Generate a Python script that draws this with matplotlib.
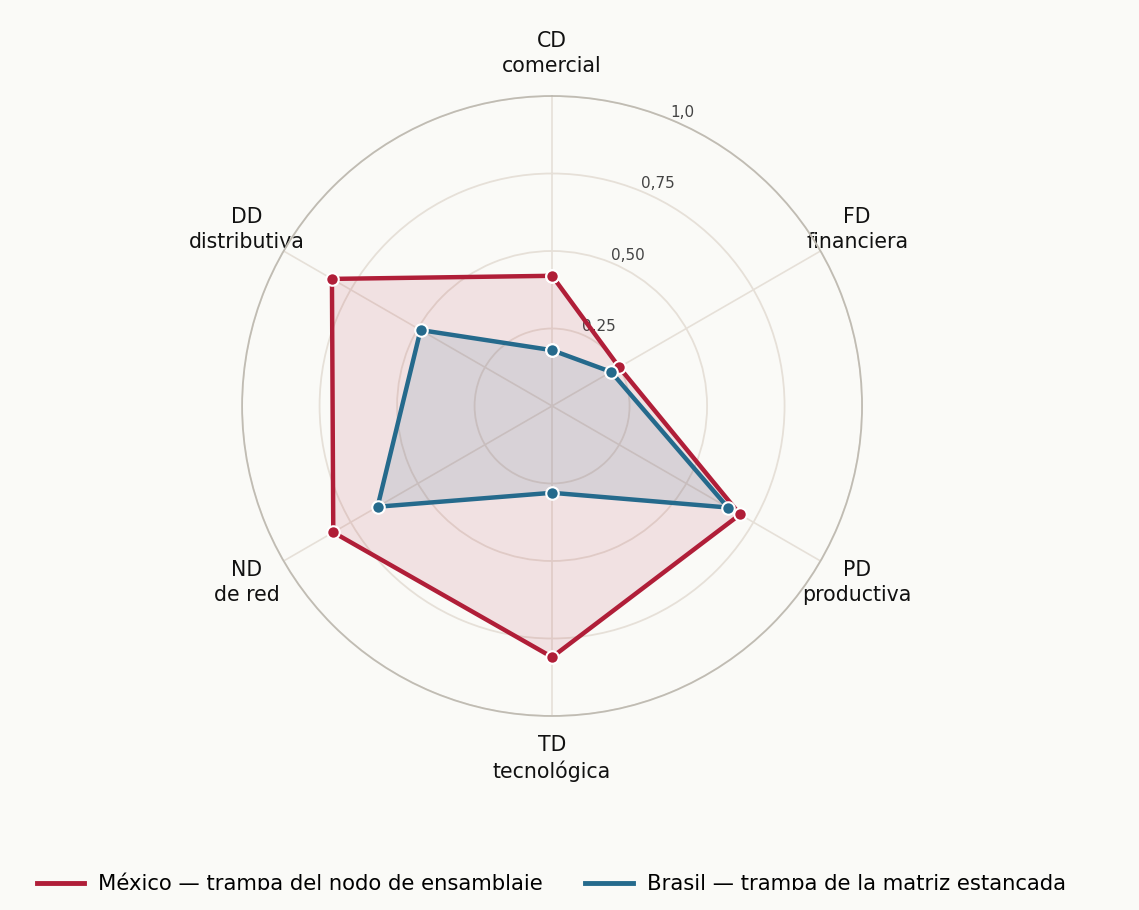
import numpy as np
import matplotlib
matplotlib.use("Agg")
import matplotlib.pyplot as plt
from matplotlib.patches import Rectangle

categories = ["CD\ncomercial", "FD\nfinanciera", "PD\nproductiva",
              "TD\ntecnológica", "ND\nde red", "DD\ndistributiva"]
mexico = [0.42, 0.25, 0.70, 0.81, 0.815, 0.82]
brasil = [0.18, 0.22, 0.655, 0.28, 0.65, 0.49]
r_ticks = [0.25, 0.50, 0.75, 1.0]
r_labels = ["0,25", "0,50", "0,75", "1,0"]
series_names = ["México — trampa del nodo de ensamblaje",
                "Brasil — trampa de la matriz estancada"]

BG = "#fafaf7"
RED = "#b01e38"
BLUE = "#256a8c"

fig = plt.figure(figsize=(11.39, 9.10), dpi=100, facecolor=BG)
ax = fig.add_axes([0.2125, 0.2132, 0.5444, 0.6813], projection="polar")
ax.set_facecolor(BG)
ax.set_theta_zero_location("N")
ax.set_theta_direction(-1)

n = len(categories)
angles = np.linspace(0, 2 * np.pi, n, endpoint=False)
ang_c = np.concatenate([angles, angles[:1]])

for vals, col, fa, name in [(mexico, RED, 0.11, series_names[0]),
                            (brasil, BLUE, 0.12, series_names[1])]:
    v = np.concatenate([vals, vals[:1]])
    ax.fill(ang_c, v, color=col, alpha=fa, zorder=2, linewidth=0)
    ax.plot(ang_c, v, color=col, linewidth=3.2, zorder=3, label=name,
            marker="o", markersize=9, markerfacecolor=col,
            markeredgecolor="white", markeredgewidth=1.5)

ax.set_ylim(0, 1.0)
ax.set_yticks(r_ticks)
ax.set_yticklabels(r_labels, fontsize=11, color="#444444")
ax.set_rlabel_position(22.5)
ax.set_xticks(angles)
ax.set_xticklabels(categories, fontsize=14.8, color="#111111",
                   linespacing=1.3)
ax.tick_params(axis="x", pad=20)
ax.yaxis.grid(True, color="#e6e0d8", linewidth=1.3)
ax.xaxis.grid(True, color="#e6e0d8", linewidth=1.2)
ax.spines["polar"].set_color("#c0bcb3")
ax.spines["polar"].set_linewidth(1.3)

leg = fig.legend(loc="center", bbox_to_anchor=(0.484, 0.029), ncol=2,
                 frameon=False, fontsize=15.2, handlelength=2.25,
                 columnspacing=2.0, handletextpad=0.67)
for h in leg.legend_handles:
    h.set_marker("")
    h.set_linewidth(3.5)

fig.add_artist(Rectangle((0, 0), 1, 20 / 910, transform=fig.transFigure,
                         facecolor=BG, edgecolor="none", zorder=10))

fig.savefig("out.png", dpi=100, facecolor=BG)
